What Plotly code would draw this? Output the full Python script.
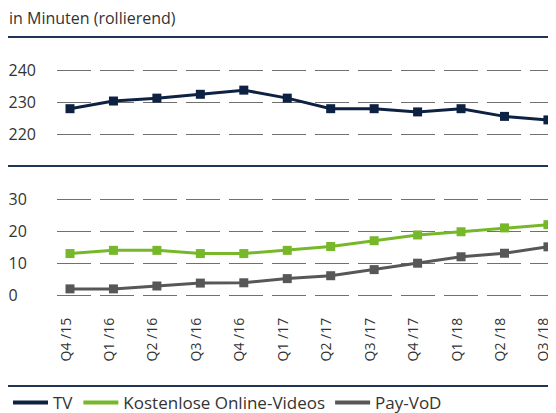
import plotly.graph_objects as go

categories = ["Q4 /15", "Q1 /16", "Q2 /16", "Q3 /16", "Q4 /16", "Q1 /17",
              "Q2 /17", "Q3 /17", "Q4 /17", "Q1 /18", "Q2 /18", "Q3 /18"]
tv = [228, 230.4, 231.3, 232.5, 233.8, 231.3, 228, 228, 227, 228, 225.6, 224.5]
online_free = [13, 14, 14, 13, 13, 14, 15.2, 17, 18.8, 19.8, 21, 22]
pay_vod = [2, 2, 2.9, 3.8, 3.9, 5.2, 6.1, 8, 10, 12, 13.1, 15.1]
series_names = ["TV", "Kostenlose Online-Videos", "Pay-VoD"]

top_ticks = [220, 230, 240]
bottom_ticks = [0, 10, 20, 30]

# the page places the figure 8px from the top-left corner of the window
OFF = 8
W, H = 556, 413
MR, MB = OFF, OFF
NAVY = "#0d2142"
GREEN = "#76b82a"
GREY = "#575757"
FONT = "Open Sans"
TXT = "#333333"

left = 57 - OFF
PW = W - left - MR
PH = H - MB

def py(px):
    return 1 - (px - OFF) / PH

def pxx(px):
    return (px - OFF - left) / PW

fig = go.Figure()
xs = list(range(len(categories)))
for vals, name, col, ax in ((tv, series_names[0], NAVY, "y"),
                            (online_free, series_names[1], GREEN, "y2"),
                            (pay_vod, series_names[2], GREY, "y2")):
    fig.add_trace(go.Scatter(x=xs, y=vals, name=name, showlegend=False,
                             mode="lines+markers", xaxis="x", yaxis=ax,
                             line=dict(color=col, width=3),
                             marker=dict(symbol="square", size=9, color=col),
                             cliponaxis=False))
# legend entries (line only, as in the original legend)
for name, col in zip(series_names, (NAVY, GREEN, GREY)):
    fig.add_trace(go.Scatter(x=[None], y=[None], name=name, mode="lines",
                             xaxis="x", yaxis="y2",
                             line=dict(color=col, width=4)))

grid = dict(showgrid=True, gridcolor="#707070", gridwidth=1, griddash="34px,9px",
            zeroline=False, showline=False, ticks="", automargin=False,
            tickfont=dict(family=FONT, size=16, color=TXT), ticklabelstandoff=20)

sp = 43.45
a = -(70 - 57) / sp
b = a + PW / sp

fig.update_layout(
    width=W, height=H,
    margin=dict(l=left, r=MR, t=0, b=MB, autoexpand=False),
    paper_bgcolor="white", plot_bgcolor="white",
    showlegend=True,
    xaxis=dict(anchor="y2", range=[a, b], tickmode="array",
               tickvals=xs, ticktext=categories,
               tickangle=-90, showgrid=False, zeroline=False, showline=False,
               ticks="", ticklabelstandoff=14, automargin=False,
               ticklabeloverflow="allow", ticklabelshift=-4,
               tickfont=dict(family=FONT, size=14, color=TXT)),
    yaxis=dict(domain=[py(150), py(45)],
               range=[240 - (150 - 70.3) / 3.2, 240 - (45 - 70.3) / 3.2],
               tickmode="array", tickvals=top_ticks,
               ticktext=[str(v) for v in top_ticks], **grid),
    yaxis2=dict(domain=[py(300), py(175)],
                range=[(295.3 - 300) / 3.21, (295.3 - 175) / 3.21],
                tickmode="array", tickvals=bottom_ticks,
                ticktext=[str(v) + "\u2007" * (3 - len(str(v))) for v in bottom_ticks],
                **grid),
    legend=dict(orientation="h", xref="container", yref="container",
                x=0.0, xanchor="left", y=1 - (403 - OFF) / H, yanchor="middle",
                font=dict(family=FONT, size=17, color=TXT),
                bgcolor="rgba(0,0,0,0)", itemwidth=35, tracegroupgap=0),
    font=dict(family=FONT, color=TXT),
)

for ypx in (37, 166, 386):
    fig.add_shape(type="line", xref="paper", yref="paper",
                  x0=pxx(7), x1=1, y0=py(ypx), y1=py(ypx),
                  line=dict(color="#1e3556", width=2))

fig.add_annotation(text="in Minuten (rollierend)", xref="paper", yref="paper",
                   x=pxx(7), y=py(18), xanchor="left", yanchor="middle",
                   showarrow=False, font=dict(family=FONT, size=16, color=TXT))

fig.write_html("out.html")
